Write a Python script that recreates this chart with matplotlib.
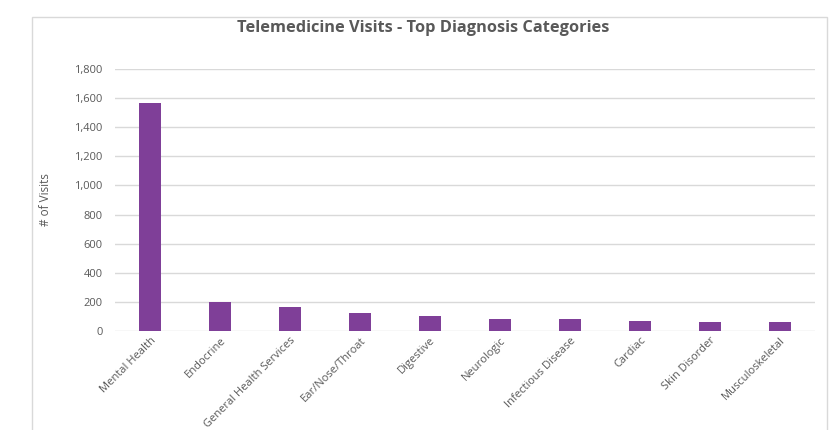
import matplotlib.pyplot as plt
from matplotlib.patches import Rectangle
from matplotlib.ticker import FuncFormatter

categories = ['Mental Health', 'Endocrine', 'General Health Services', 'Ear/Nose/Throat',
              'Digestive', 'Neurologic', 'Infectious Disease', 'Cardiac', 'Skin Disorder',
              'Musculoskeletal']
visits = [1565, 198, 165, 124, 105, 80, 80, 67, 64, 60]
y_ticks = [0, 200, 400, 600, 800, 1000, 1200, 1400, 1600, 1800]

plt.rcParams['font.family'] = ['Open Sans', 'DejaVu Sans']

fig = plt.figure(figsize=(8.33, 4.30), dpi=100)
fig.patches.append(Rectangle((32 / 833, -0.1), (827 - 32) / 833, 1.1 - 17 / 430,
                             transform=fig.transFigure, fill=False,
                             edgecolor='#d9d9d9', linewidth=1))
ax = fig.add_axes([115 / 833, 1 - 331 / 430, 700 / 833, 262 / 430])

x = list(range(len(categories)))
ax.bar(x, visits, width=0.31, color='#7F3F98', zorder=3)

ax.set_xlim(-0.5, len(categories) - 0.5)
ax.set_ylim(0, 1800)
ax.set_yticks(y_ticks)
ax.yaxis.set_major_formatter(FuncFormatter(lambda v, p: '{:,.0f}'.format(v)))
ax.grid(axis='y', color='#d9d9d9', linewidth=1, zorder=0)
ax.set_axisbelow(True)
for s in ax.spines.values():
    s.set_visible(False)
ax.tick_params(axis='both', length=0, colors='#595959', labelsize=8)
ax.tick_params(axis='y', pad=9)

ax.set_xticks(x)
ax.set_xticklabels(categories, rotation=45, ha='right', rotation_mode='anchor')
ax.tick_params(axis='x', pad=3)

ax.set_ylabel('# of Visits', color='#595959', fontsize=8.5, labelpad=16)
fig.text(423 / 833, 1 - 28 / 430, 'Telemedicine Visits - Top Diagnosis Categories',
         ha='center', va='center', fontsize=11.8, fontweight='bold', color='#595959')

fig.savefig('out.png', dpi=100)
